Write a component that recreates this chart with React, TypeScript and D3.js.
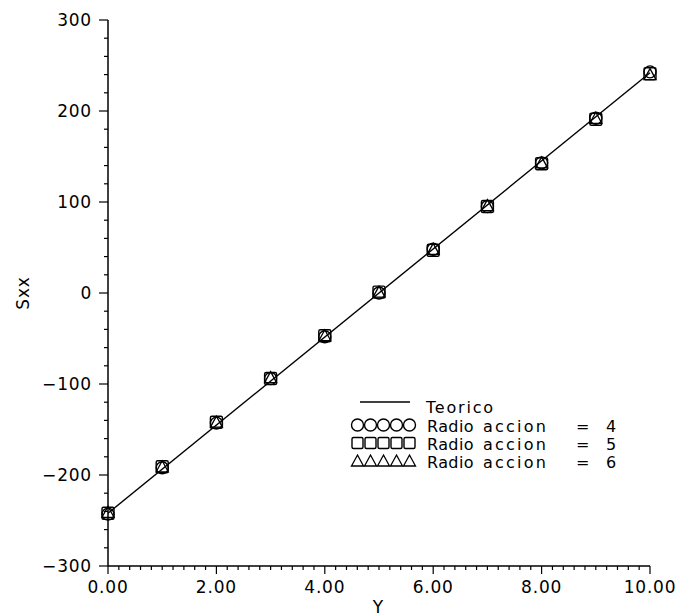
import React from "react";
import * as d3 from "d3";

const xValues = [0, 1, 2, 3, 4, 5, 6, 7, 8, 9, 10];
const radio4 = [-243, -192, -143, -94, -48, 0, 48, 95, 143, 192, 243];
const radio5 = [-242, -191, -142, -94, -47, 1, 47, 95, 142, 191, 241];
const radio6 = [-241, -191, -142, -93, -47, 1, 48, 96, 143, 192, 240];
const teoricoX = [0, 10];
const teoricoY = [-242, 242];
const xTicks = [0, 2, 4, 6, 8, 10];
const yTicks = [300, 200, 100, 0, -100, -200, -300];
const legendValues = ["4", "5", "6"];

const W = 675;
const H = 616;
const left = 108;
const right = 650;
const top = 20;
const bottom = 566;

export default function App() {
  const x = d3.scaleLinear().domain([0, 10]).range([left, right]);
  const y = d3.scaleLinear().domain([-300, 300]).range([bottom, top]);
  const line = d3
    .line<number>()
    .x((_, i) => x(teoricoX[i]))
    .y((d) => y(d));
  const font = "'DejaVu Sans', sans-serif";
  const xMinor = d3.range(0, 50 + 1).map((i) => i * 0.2);
  const yMinor = d3.range(0, 30 + 1).map((i) => -300 + i * 20);
  const fmtY = (v: number) => (v < 0 ? "\u2212" + Math.abs(v) : String(v));

  const circle = (cx: number, cy: number, key: string, r = 6) => (
    <circle key={key} cx={cx} cy={cy} r={r} fill="none" stroke="#000" strokeWidth={1.4} />
  );
  const square = (cx: number, cy: number, key: string, r = 6) => (
    <rect key={key} x={cx - r} y={cy - r} width={2 * r} height={2 * r} rx={1.5} fill="none" stroke="#000" strokeWidth={1.4} />
  );
  const triangle = (cx: number, cy: number, key: string, r = 6) => (
    <path key={key} d={`M${cx},${cy - r}L${cx + r},${cy + r - 1}L${cx - r},${cy + r - 1}Z`} fill="none" stroke="#000" strokeWidth={1.3} />
  );

  const symX0 = 357.5;
  const legY = [413, 432, 450, 468];

  return (
    <svg width={W} height={H} style={{ position: "absolute", left: 0, top: 0, background: "#fff" }}>
      <rect width={W} height={H} fill="#fff" />
      {/* axes */}
      <line x1={left} y1={top} x2={left} y2={bottom} stroke="#000" strokeWidth={1.5} />
      <line x1={left} y1={bottom} x2={right} y2={bottom} stroke="#000" strokeWidth={1.5} />
      {yMinor.map((v, i) => (
        <line key={"ym" + i} x1={left - (v % 100 === 0 ? 9 : 4)} x2={left} y1={y(v)} y2={y(v)} stroke="#000" strokeWidth={1.2} />
      ))}
      {xMinor.map((v, i) => (
        <line key={"xm" + i} x1={x(v)} x2={x(v)} y1={bottom} y2={bottom + (Math.abs(v / 2 - Math.round(v / 2)) < 1e-6 ? 8 : 4)} stroke="#000" strokeWidth={1.2} />
      ))}
      {yTicks.map((v) => (
        <text key={"yl" + v} x={left - 16} y={y(v)} dy="0.36em" textAnchor="end" fontFamily={font} fontSize={17} letterSpacing={0.8}>
          {fmtY(v)}
        </text>
      ))}
      {xTicks.map((v) => (
        <text key={"xl" + v} x={x(v)} y={bottom + 27} textAnchor="middle" fontFamily={font} fontSize={17} letterSpacing={0.8}>
          {v.toFixed(2)}
        </text>
      ))}
      <text x={378} y={613} textAnchor="middle" fontFamily={font} fontSize={17}>Y</text>
      <text transform={`translate(29,${y(0)}) rotate(-90)`} textAnchor="middle" fontFamily={font} fontSize={17} letterSpacing={0.8}>Sxx</text>

      {/* theoretical line */}
      <path d={line(teoricoY) || ""} fill="none" stroke="#000" strokeWidth={1.4} />

      {/* markers */}
      {xValues.map((xv, i) => circle(x(xv), y(radio4[i]), "c" + i))}
      {xValues.map((xv, i) => square(x(xv), y(radio5[i]), "s" + i))}
      {xValues.map((xv, i) => triangle(x(xv), y(radio6[i]), "t" + i))}

      {/* legend */}
      <line x1={360} x2={410} y1={402} y2={402} stroke="#000" strokeWidth={1.3} />
      {[0, 1, 2, 3, 4].map((k) => circle(symX0 + k * 13, legY[1] - 7, "lc" + k, 6))}
      {[0, 1, 2, 3, 4].map((k) => square(symX0 + k * 13, legY[2] - 7, "ls" + k, 5.5))}
      {[0, 1, 2, 3, 4].map((k) => triangle(symX0 + k * 13, legY[3] - 7, "lt" + k, 6))}
      <text x={426} y={legY[0]} fontFamily={font} fontSize={16} letterSpacing={1.8}>Teorico</text>
      {legendValues.map((v, i) => (
        <g key={"lg" + i}>
          <text x={427} y={legY[i + 1]} fontFamily={font} fontSize={16} letterSpacing={0.4}>Radio</text>
          <text x={483} y={legY[i + 1]} fontFamily={font} fontSize={16} letterSpacing={2.2}>accion</text>
          <text x={576} y={legY[i + 1]} fontFamily={font} fontSize={16}>=</text>
          <text x={606} y={legY[i + 1]} fontFamily={font} fontSize={16}>{v}</text>
        </g>
      ))}
    </svg>
  );
}
